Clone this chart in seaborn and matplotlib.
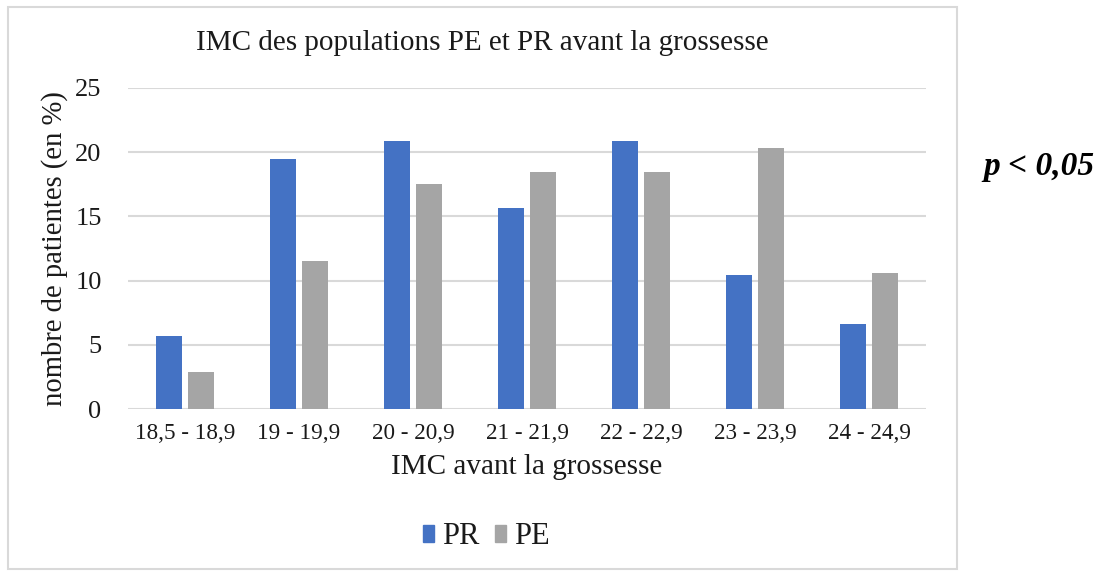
import matplotlib
matplotlib.use("Agg")
import matplotlib.pyplot as plt
import matplotlib.patches as mpatches
import seaborn as sns
import pandas as pd

categories = ["18,5 - 18,9", "19 - 19,9", "20 - 20,9", "21 - 21,9", "22 - 22,9", "23 - 23,9", "24 - 24,9"]
pr_values = [5.7, 19.5, 20.85, 15.65, 20.85, 10.4, 6.6]
pe_values = [2.9, 11.5, 17.5, 18.45, 18.45, 20.3, 10.6]
series = ["PR", "PE"]
colors = {"PR": "#4472C4", "PE": "#A5A5A5"}
yticks = [0, 5, 10, 15, 20, 25]

df = pd.DataFrame({
    "cat": categories * 2,
    "val": pr_values + pe_values,
    "serie": ["PR"] * len(categories) + ["PE"] * len(categories),
})

sns.set_theme(style="white")
plt.rcParams["font.family"] = ["Liberation Serif", "DejaVu Serif"]

txt = "#1a1a1a"
fig = plt.figure(figsize=(10.97, 5.74), dpi=100)
fig.patch.set_facecolor("white")
ax = fig.add_axes([128 / 1097, 1 - 409 / 574, (926 - 128) / 1097, (409 - 88) / 574])

sns.barplot(data=df, x="cat", y="val", hue="serie", hue_order=series,
            palette=colors, width=0.556, gap=0.18, ax=ax, legend=False,
            saturation=1, edgecolor="none", linewidth=0)

ax.set_ylim(0, 25)
ax.set_xlim(-0.5, len(categories) - 0.5)
ax.set_yticks(yticks)
ax.set_yticklabels([str(t) for t in yticks])
ax.yaxis.grid(True, color="#D9D9D9", linewidth=1.5)
ax.set_axisbelow(True)
for s in ax.spines.values():
    s.set_visible(False)
ax.tick_params(axis="both", length=0, colors=txt)
ax.tick_params(axis="y", pad=19, labelsize=19)
ax.tick_params(axis="x", pad=10, labelsize=16.7)

ax.set_xlabel("IMC avant la grossesse", fontsize=21, color=txt)
ax.xaxis.set_label_coords(0.5, 1 - (467 - 88) / (409 - 88))
ax.set_ylabel("nombre de patientes (en %)", fontsize=20.6, color=txt)
ax.yaxis.set_label_coords((55 - 128) / (926 - 128), 0.5)
ax.xaxis.label.set_va("center")
ax.yaxis.label.set_va("center")

fig.text(482 / 1097, 1 - 43 / 574, "IMC des populations PE et PR avant la grossesse",
         ha="center", va="center", fontsize=21, color=txt)

handles = [mpatches.Patch(color=colors[s], label=s) for s in series]
fig.legend(handles=handles, loc="center", bbox_to_anchor=(486 / 1097, 1 - 537 / 574),
           ncol=2, frameon=False, fontsize=22, handlelength=0.38, handleheight=0.5,
           handletextpad=0.25, columnspacing=0.5, labelcolor=txt)

fig.text(1039 / 1097, 1 - 167 / 574, "p < 0,05", ha="center", va="center",
         fontsize=24, fontweight="bold", fontstyle="italic", color="black")

border = mpatches.Rectangle((7.5 / 1097, 5 / 574), (957 - 7.5) / 1097, (567 - 5) / 574,
                            transform=fig.transFigure, fill=False,
                            edgecolor="#D9D9D9", linewidth=1.5)
fig.patches.append(border)

fig.savefig("out.png", dpi=100, facecolor="white")
